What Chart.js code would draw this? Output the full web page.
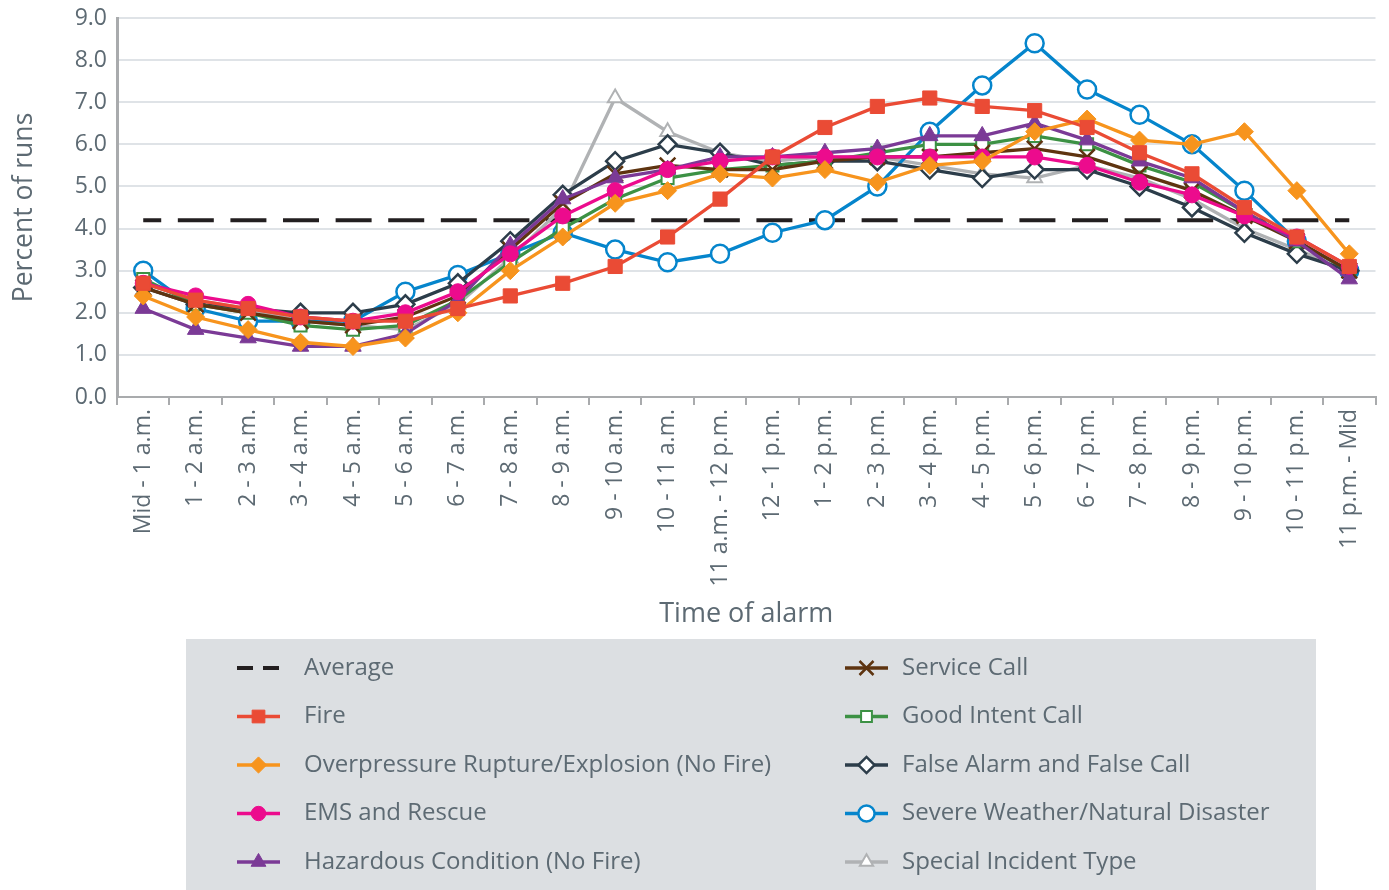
<!DOCTYPE html>
<html>
<head>
<meta charset="utf-8">
<script src="https://cdn.jsdelivr.net/npm/chart.js@4"></script>
<style>
  html, body { margin: 0; padding: 0; background: #fff; }
  #wrap { width: 1389px; height: 890px; }
</style>
</head>
<body>
<div id="wrap"><canvas id="alarmChart"></canvas></div>
<script>
const hours = [
  "Mid - 1 a.m.", "1 - 2 a.m.", "2 - 3 a.m.", "3 - 4 a.m.", "4 - 5 a.m.", "5 - 6 a.m.",
  "6 - 7 a.m.", "7 - 8 a.m.", "8 - 9 a.m.", "9 - 10 a.m.", "10 - 11 a.m.", "11 a.m. - 12 p.m.",
  "12 - 1 p.m.", "1 - 2 p.m.", "2 - 3 p.m.", "3 - 4 p.m.", "4 - 5 p.m.", "5 - 6 p.m.",
  "6 - 7 p.m.", "7 - 8 p.m.", "8 - 9 p.m.", "9 - 10 p.m.", "10 - 11 p.m.", "11 p.m. - Mid",
];

const averageValue = 4.2;
const fire = [2.7, 2.3, 2.1, 1.9, 1.8, 1.8, 2.1, 2.4, 2.7, 3.1, 3.8, 4.7, 5.7, 6.4, 6.9, 7.1, 6.9, 6.8, 6.4, 5.8, 5.3, 4.5, 3.8, 3.1];
const overpressure = [2.4, 1.9, 1.6, 1.3, 1.2, 1.4, 2.0, 3.0, 3.8, 4.6, 4.9, 5.3, 5.2, 5.4, 5.1, 5.5, 5.6, 6.3, 6.6, 6.1, 6.0, 6.3, 4.9, 3.4];
const ems = [2.7, 2.4, 2.2, 1.9, 1.8, 2.0, 2.5, 3.4, 4.3, 4.9, 5.4, 5.6, 5.7, 5.7, 5.7, 5.7, 5.7, 5.7, 5.5, 5.1, 4.8, 4.3, 3.8, 3.1];
const hazardous = [2.1, 1.6, 1.4, 1.2, 1.2, 1.5, 2.3, 3.6, 4.7, 5.2, 5.4, 5.7, 5.7, 5.8, 5.9, 6.2, 6.2, 6.5, 6.1, 5.6, 5.2, 4.4, 3.7, 2.8];
const serviceCall = [2.6, 2.2, 2.0, 1.8, 1.7, 1.9, 2.4, 3.5, 4.6, 5.3, 5.5, 5.4, 5.4, 5.6, 5.7, 5.7, 5.8, 5.9, 5.7, 5.3, 4.9, 4.3, 3.7, 3.0];
const goodIntent = [2.8, 2.2, 2.0, 1.7, 1.6, 1.7, 2.3, 3.2, 4.0, 4.7, 5.2, 5.4, 5.5, 5.6, 5.8, 6.0, 6.0, 6.2, 6.0, 5.5, 5.1, 4.4, 3.7, 3.0];
const falseAlarm = [2.6, 2.2, 2.1, 2.0, 2.0, 2.2, 2.7, 3.7, 4.8, 5.6, 6.0, 5.8, 5.5, 5.6, 5.6, 5.4, 5.2, 5.4, 5.4, 5.0, 4.5, 3.9, 3.4, 3.0];
const severeWeather = [3.0, 2.1, 1.8, 1.8, 1.8, 2.5, 2.9, 3.4, 3.9, 3.5, 3.2, 3.4, 3.9, 4.2, 5.0, 6.3, 7.4, 8.4, 7.3, 6.7, 6.0, 4.9, 3.7, 3.0];
const specialIncident = [2.7, 2.3, 2.1, 1.8, 1.7, 1.6, 2.2, 3.3, 4.5, 7.1, 6.3, 5.8, 5.6, 5.7, 5.7, 5.5, 5.3, 5.2, 5.5, 5.2, 4.7, 4.0, 3.5, 3.0];

const yTicks = [0, 1, 2, 3, 4, 5, 6, 7, 8, 9];

const textGray = "#5d6a73";
const font = "'Open Sans', 'Noto Sans', sans-serif";

function series(label, data, color, style, radius, filled, extra) {
  return Object.assign({
    label: label,
    data: data,
    borderColor: color,
    backgroundColor: color,
    borderWidth: 3.3,
    pointStyle: style,
    pointRadius: radius,
    pointHoverRadius: radius,
    pointBackgroundColor: filled ? color : "#ffffff",
    pointBorderColor: color,
    pointBorderWidth: filled ? 1 : 2.5,
    tension: 0,
  }, extra || {});
}

const datasets = [
  {
    label: "Average",
    data: hours.map(() => averageValue),
    borderColor: "#231f20",
    borderWidth: 4,
    borderDash: [36, 16.6],
    borderDashOffset: 18,
    pointRadius: 0,
    order: 100,
  },
  series("Fire", fire, "#ea4b35", "rect", 10, true),
  series("Overpressure Rupture/Explosion (No Fire)", overpressure, "#f7941d", "rectRot", 9, true),
  series("EMS and Rescue", ems, "#ec0b8d", "circle", 8, true),
  series("Hazardous Condition (No Fire)", hazardous, "#7b3a96", "triangle", 9.5, true),
  series("Service Call", serviceCall, "#5e3410", "crossRot", 11, true, { pointBorderWidth: 2.5 }),
  series("Good Intent Call", goodIntent, "#3c9144", "rect", 8.5, false, { pointBorderWidth: 2 }),
  series("False Alarm and False Call", falseAlarm, "#2c3d4a", "rectRot", 9, false),
  series("Severe Weather/Natural Disaster", severeWeather, "#0585cc", "circle", 9, false),
  series("Special Incident Type", specialIncident, "#b0b2b4", "triangle", 8.5, false, { pointBorderWidth: 2 }),
];

// two-column legend drawn in a grey box under the chart
const boxLegend = {
  id: "boxLegend",
  afterDraw(chart) {
    const ctx = chart.ctx;
    ctx.save();
    ctx.fillStyle = "#dcdfe2";
    ctx.fillRect(186, 639, 1130, 251);
    chart.data.datasets.forEach((ds, i) => {
      const col = i < 5 ? 0 : 1;
      const row = i % 5;
      const x0 = col ? 845 : 237;
      const textX = col ? 902 : 304;
      const y = 668 + row * 48.5;
      ctx.strokeStyle = ds.borderColor;
      ctx.lineWidth = ds.borderWidth;
      ctx.setLineDash(ds.borderDash ? [16, 10] : []);
      ctx.beginPath();
      ctx.moveTo(x0, y);
      ctx.lineTo(x0 + 43, y);
      ctx.stroke();
      ctx.setLineDash([]);
      if (ds.pointRadius > 0) {
        ctx.fillStyle = ds.pointBackgroundColor;
        ctx.strokeStyle = ds.pointBorderColor;
        ctx.lineWidth = ds.pointBorderWidth;
        Chart.helpers.drawPoint(ctx, {
          pointStyle: ds.pointStyle,
          radius: ds.pointRadius * 0.9,
          borderWidth: ds.pointBorderWidth,
          rotation: 0,
        }, x0 + 21.5, y);
      }
      ctx.fillStyle = textGray;
      ctx.font = "24px " + font;
      ctx.textBaseline = "middle";
      ctx.fillText(ds.label, textX, y);
    });
    ctx.restore();
  },
};

new Chart(document.getElementById("alarmChart"), {
  type: "line",
  data: { labels: hours, datasets: datasets },
  plugins: [boxLegend],
  options: {
    responsive: true,
    maintainAspectRatio: false,
    animation: false,
    layout: { padding: { top: 18, right: 9, bottom: 253, left: 0 } },
    plugins: {
      legend: { display: false },
      tooltip: { enabled: false },
    },
    scales: {
      x: {
        offset: true,
        afterFit: (scale) => { scale.height = 240; },
        grid: {
          display: true,
          drawOnChartArea: false,
          drawTicks: true,
          tickLength: 8,
          color: "#a9abad",
          lineWidth: 2,
          offset: true,
        },
        border: { display: true, color: "#a9abad", width: 2 },
        ticks: {
          autoSkip: false,
          minRotation: 90,
          maxRotation: 90,
          padding: 4,
          color: textGray,
          font: { family: font, size: 23 },
        },
        title: {
          display: true,
          text: "Time of alarm",
          color: textGray,
          font: { family: font, size: 27 },
          padding: { top: 4, bottom: 6 },
        },
      },
      y: {
        min: 0,
        max: 9,
        afterFit: (scale) => {
          scale.width = 117;
          scale.paddingTop = 0;
          scale.paddingBottom = 0;
        },
        afterBuildTicks: (scale) => { scale.ticks = yTicks.map((v) => ({ value: v })); },
        grid: { color: "#dfe3e7", lineWidth: 2, drawTicks: false },
        border: { display: true, color: "#a9abad", width: 3 },
        ticks: {
          padding: 10,
          color: textGray,
          font: { family: font, size: 23 },
          callback: (value) => value.toFixed(1),
        },
        title: {
          display: true,
          text: "Percent of runs",
          color: textGray,
          font: { family: font, size: 26.5 },
          padding: { top: 9, bottom: 4 },
        },
      },
    },
  },
});
</script>
</body>
</html>
